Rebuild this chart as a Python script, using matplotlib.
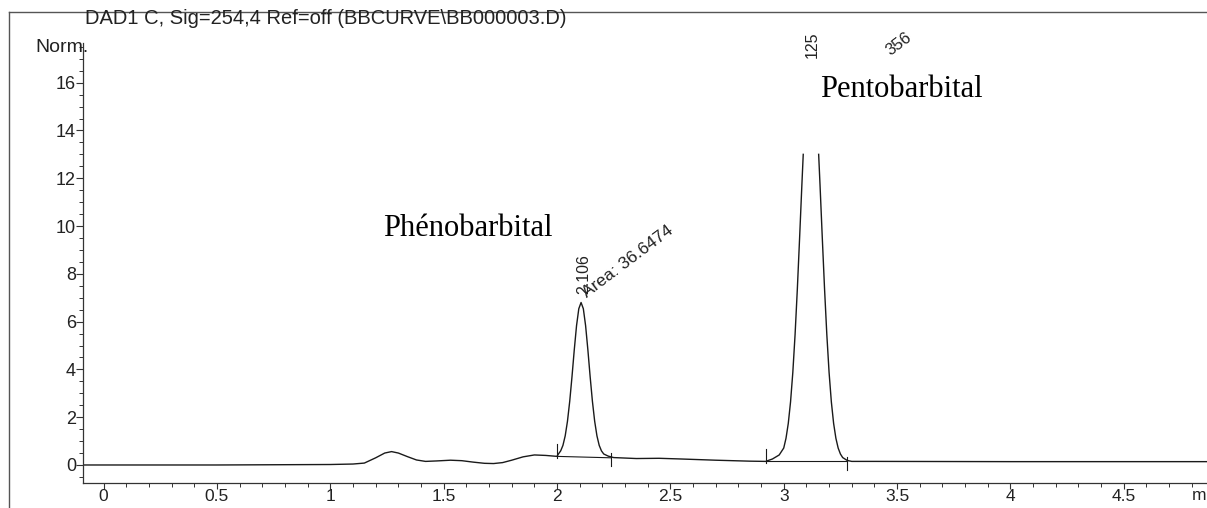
import numpy as np
import matplotlib
matplotlib.use("Agg")
import matplotlib.pyplot as plt
from matplotlib.lines import Line2D
from matplotlib.ticker import MultipleLocator

# ---- data ----
time_min = [-0.09, 0.5, 1.0, 1.10, 1.15, 1.20, 1.24, 1.27, 1.30, 1.34, 1.38, 1.42,
            1.47, 1.53, 1.58, 1.63, 1.68, 1.72, 1.76, 1.80, 1.85, 1.90, 1.95, 2.00,
            2.006, 2.016, 2.026, 2.036, 2.046, 2.056, 2.066, 2.076, 2.086, 2.096,
            2.106, 2.116, 2.126, 2.136, 2.146, 2.156, 2.166, 2.176, 2.186, 2.196,
            2.206, 2.226, 2.25, 2.35, 2.45, 2.55, 2.70, 2.85, 2.92, 2.95, 2.98,
            3.00, 3.01, 3.02, 3.03, 3.04, 3.05, 3.06, 3.07, 3.08, 3.086,
            3.12,
            3.154, 3.16, 3.17, 3.18, 3.19, 3.20, 3.21, 3.22, 3.23, 3.24, 3.25,
            3.26, 3.28, 3.30, 3.40, 4.00, 4.87]
signal = [0.0, 0.0, 0.02, 0.04, 0.08, 0.30, 0.50, 0.56, 0.50, 0.35, 0.21, 0.15,
          0.17, 0.20, 0.18, 0.12, 0.07, 0.06, 0.10, 0.20, 0.34, 0.42, 0.40, 0.36,
          0.46, 0.59, 0.82, 1.22, 1.83, 2.67, 3.70, 4.82, 5.83, 6.54,
          6.80, 6.54, 5.83, 4.82, 3.70, 2.67, 1.83, 1.22, 0.82, 0.59,
          0.46, 0.37, 0.31, 0.27, 0.28, 0.25, 0.20, 0.16, 0.15, 0.25, 0.42,
          0.71, 1.12, 1.74, 2.64, 3.87, 5.46, 7.37, 9.51, 11.73, 13.0,
          np.nan,
          13.0, 11.73, 9.51, 7.37, 5.46, 3.87, 2.64, 1.74, 1.12, 0.71, 0.46,
          0.31, 0.19, 0.15, 0.15, 0.14, 0.14]

peak_rt = [2.106, 3.125]
peak_rt_labels = ["2.106", "125"]
peak_area_labels = ["Area: 36.6474", "356"]
baseline_start = [2.00, 2.92]
baseline_end = [2.24, 3.28]
baseline_level_start = [0.36, 0.15]
baseline_level_end = [0.30, 0.15]
compound_names = ["Phénobarbital", "Pentobarbital"]
yticks = [0, 2, 4, 6, 8, 10, 12, 14, 16]
xticks = [0, 0.5, 1, 1.5, 2, 2.5, 3, 3.5, 4, 4.5]
xtick_labels = ["0", "0.5", "1", "1.5", "2", "2.5", "3", "3.5", "4", "4.5"]
x_unit_visible = "m"
title_text = "DAD1 C, Sig=254,4 Ref=off (BBCURVE\\BB000003.D)"

plt.rcParams['font.family'] = ['Liberation Sans', 'DejaVu Sans']

W, H = 1207, 508
spine_y = 483
fig = plt.figure(figsize=(W / 100, H / 100), dpi=100)
ax = fig.add_axes([83 / W, 1 - spine_y / H, 1 - 83 / W, (spine_y - 43) / H])

ink = '#1a1a1a'
txt = '#222222'
ax.plot(time_min, signal, color=ink, lw=1.0)

# integration baselines and marks
for xs, xe, ys, ye in zip(baseline_start, baseline_end, baseline_level_start, baseline_level_end):
    ax.plot([xs, xe], [ys, ye], color=ink, lw=0.8)
    ax.plot([xs, xs], [ys - 0.05, ys + 0.5], color=ink, lw=0.8)
    ax.plot([xe, xe], [ye + 0.2, ye - 0.35], color=ink, lw=0.8)

ymin = (465 - spine_y) / 23.875
ax.set_xlim(-0.091, 4.867)
ax.set_ylim(ymin, 17.66)
for s in ['top', 'right']:
    ax.spines[s].set_visible(False)
for s in ['left', 'bottom']:
    ax.spines[s].set_color('#333333')
    ax.spines[s].set_linewidth(0.9)

ax.set_yticks(yticks)
ax.yaxis.set_minor_locator(MultipleLocator(0.5))
ax.set_xticks(xticks)
ax.set_xticklabels(xtick_labels)
ax.xaxis.set_minor_locator(MultipleLocator(0.1))
ax.tick_params(axis='both', which='major', direction='out', length=5, width=0.8,
               colors='#333333', labelsize=13, labelcolor=txt)
ax.tick_params(axis='both', which='minor', direction='out', length=3, width=0.7,
               colors='#333333')
ax.tick_params(axis='y', which='major', pad=0)
ax.tick_params(axis='x', which='major', length=4, pad=0.5, labelsize=12.5)

# x-axis unit, as visible at the page edge
fig.text(1192 / W, 1 - 488 / H, x_unit_visible, ha='left', va='top', fontsize=12.5, color=txt)

# peak annotations
ax.text(peak_rt[0] + 0.01, 7.15, peak_rt_labels[0], rotation=90, ha='center', va='bottom',
        fontsize=11.5, color=txt)
ax.text(peak_rt[0] + 0.035, 6.9, peak_area_labels[0], rotation=37, ha='left', va='bottom',
        fontsize=12.5, color=txt, rotation_mode='anchor')
ax.text(peak_rt[1], 17.05, peak_rt_labels[1], rotation=90, ha='center', va='bottom',
        fontsize=11.5, color=txt)
ax.text(3.48, 17.0, peak_area_labels[1], rotation=37, ha='left', va='bottom',
        fontsize=12, color=txt, rotation_mode='anchor')

# compound names
ax.text(1.605, 9.9, compound_names[0], ha='center', va='center', fontsize=22,
        family='Liberation Serif', color='black')
ax.text(3.52, 15.7, compound_names[1], ha='center', va='center', fontsize=22,
        family='Liberation Serif', color='black')

# header
fig.text(85 / W, 1 - 19 / H, title_text, ha='left', va='center', fontsize=14.5, color=txt)
fig.text(35 / W, 1 - 47 / H, "Norm.", ha='left', va='center', fontsize=14, color=txt)

# page frame lines
fig.add_artist(Line2D([9 / W, 9 / W], [0, 1 - 12 / H], transform=fig.transFigure,
                      color='#555555', lw=1.0))
fig.add_artist(Line2D([9 / W, 1], [1 - 12 / H, 1 - 12 / H], transform=fig.transFigure,
                      color='#555555', lw=1.0))

fig.savefig("out.png", dpi=100, facecolor='white')
